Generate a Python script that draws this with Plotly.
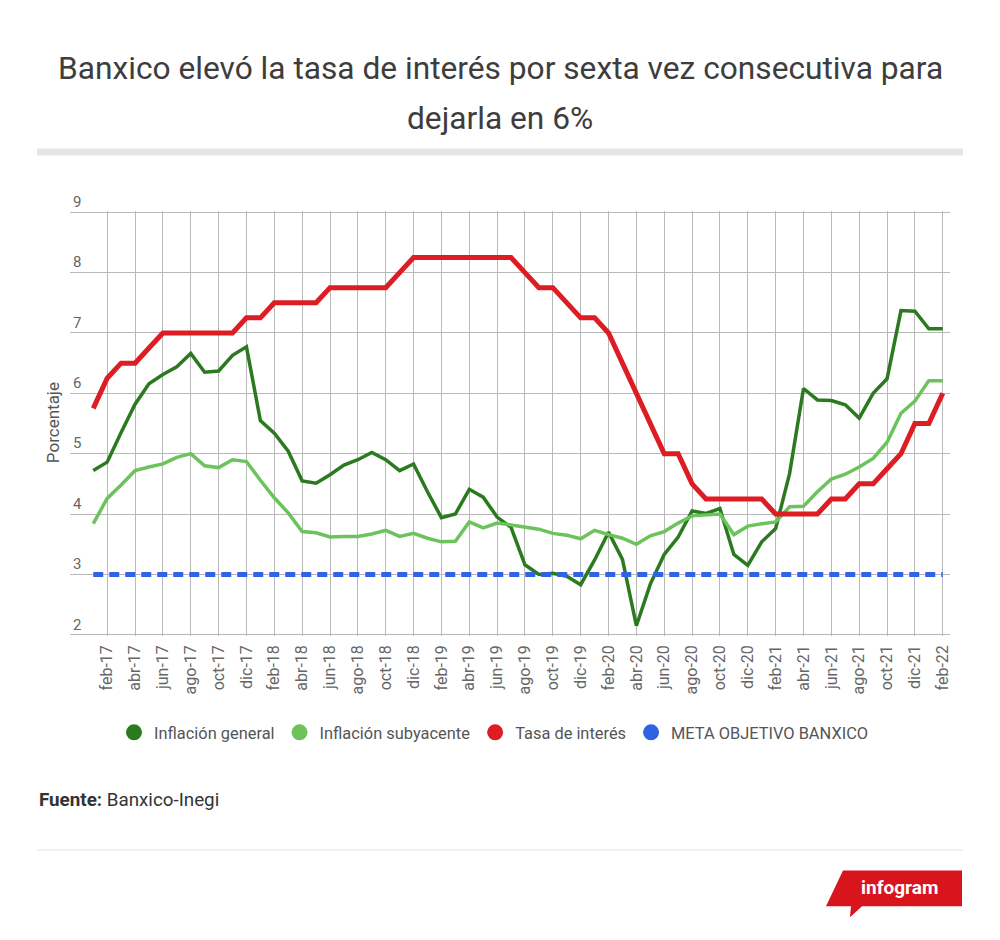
import plotly.graph_objects as go

# Meses (ene-17 a feb-22)
MESES = [
    'ene-17', 'feb-17', 'mar-17', 'abr-17', 'may-17', 'jun-17', 'jul-17', 'ago-17', 'sep-17', 'oct-17', 'nov-17', 'dic-17',
    'ene-18', 'feb-18', 'mar-18', 'abr-18', 'may-18', 'jun-18', 'jul-18', 'ago-18', 'sep-18', 'oct-18', 'nov-18', 'dic-18',
    'ene-19', 'feb-19', 'mar-19', 'abr-19', 'may-19', 'jun-19', 'jul-19', 'ago-19', 'sep-19', 'oct-19', 'nov-19', 'dic-19',
    'ene-20', 'feb-20', 'mar-20', 'abr-20', 'may-20', 'jun-20', 'jul-20', 'ago-20', 'sep-20', 'oct-20', 'nov-20', 'dic-20',
    'ene-21', 'feb-21', 'mar-21', 'abr-21', 'may-21', 'jun-21', 'jul-21', 'ago-21', 'sep-21', 'oct-21', 'nov-21', 'dic-21',
    'ene-22', 'feb-22',
]

# etiquetas visibles: un mes si, uno no
ETIQUETAS_X = MESES[1::2]
TICKS_Y = [2, 3, 4, 5, 6, 7, 8, 9]

INFLACION_GENERAL = [
    4.72, 4.86, 5.35, 5.82, 6.16, 6.31, 6.44, 6.66, 6.35, 6.37, 6.63, 6.77,
    5.55, 5.34, 5.04, 4.55, 4.51, 4.65, 4.81, 4.90, 5.02, 4.90, 4.72, 4.83,
    4.37, 3.94, 4.00, 4.41, 4.28, 3.95, 3.78, 3.16, 3.00, 3.02, 2.97, 2.83,
    3.24, 3.70, 3.25, 2.15, 2.84, 3.33, 3.62, 4.05, 4.01, 4.09, 3.33, 3.15,
    3.54, 3.76, 4.67, 6.08, 5.89, 5.88, 5.81, 5.59, 6.00, 6.24, 7.37, 7.36,
    7.07, 7.07,
]

INFLACION_SUBYACENTE = [
    3.84, 4.26, 4.48, 4.72, 4.78, 4.83, 4.94, 5.00, 4.80, 4.77, 4.90, 4.87,
    4.56, 4.27, 4.02, 3.71, 3.69, 3.62, 3.63, 3.63, 3.67, 3.73, 3.63, 3.68,
    3.60, 3.54, 3.55, 3.87, 3.77, 3.85, 3.82, 3.78, 3.75, 3.68, 3.65, 3.59,
    3.73, 3.66, 3.60, 3.50, 3.64, 3.71, 3.85, 3.97, 3.99, 4.00, 3.66, 3.80,
    3.84, 3.87, 4.12, 4.13, 4.37, 4.58, 4.66, 4.78, 4.92, 5.19, 5.67, 5.87,
    6.21, 6.21,
]

TASA_INTERES = [
    5.75, 6.25, 6.50, 6.50, 6.75, 7.00, 7.00, 7.00, 7.00, 7.00, 7.00, 7.25,
    7.25, 7.50, 7.50, 7.50, 7.50, 7.75, 7.75, 7.75, 7.75, 7.75, 8.00, 8.25,
    8.25, 8.25, 8.25, 8.25, 8.25, 8.25, 8.25, 8.00, 7.75, 7.75, 7.50, 7.25,
    7.25, 7.00, 6.50, 6.00, 5.50, 5.00, 5.00, 4.50, 4.25, 4.25, 4.25, 4.25,
    4.25, 4.00, 4.00, 4.00, 4.00, 4.25, 4.25, 4.50, 4.50, 4.75, 5.00, 5.50,
    5.50, 6.00,
]

META_BANXICO = [3.0] * len(MESES)

SERIES = [
    ('Inflación general', INFLACION_GENERAL, '#2b7a20', 3.5, 'solid'),
    ('Inflación subyacente', INFLACION_SUBYACENTE, '#6cc35c', 3.5, 'solid'),
    ('Tasa de interés', TASA_INTERES, '#dd1c24', 5, 'solid'),
    ('META OBJETIVO BANXICO', META_BANXICO, '#2f63e3', 5, '10px,6px'),
]

# area del grafico en pixeles
W, H = 1000, 940
L, T, PW, PH = 70, 210.5, 880, 425.7


def px(x):
    return (x - L) / PW


def py(y):
    return 1 - (y - T) / PH


fig = go.Figure()

for nombre, valores, color, ancho, dash in SERIES:
    fig.add_trace(go.Scatter(
        x=MESES, y=valores, name=nombre, mode='lines',
        line=dict(color=color, width=ancho, dash=dash),
        showlegend=False,
        hovertemplate='%{x}<br>' + nombre + ': %{y:.2f}<extra></extra>',
    ))

# circulos de la leyenda
for nombre, valores, color, ancho, dash in SERIES:
    fig.add_trace(go.Scatter(
        x=[None], y=[None], name=nombre, mode='markers',
        marker=dict(color=color, size=19),
    ))

font = 'Roboto, Arial, sans-serif'

fig.update_layout(
    width=W, height=H,
    margin=dict(l=L, r=W - L - PW, t=T, b=H - T - PH),
    plot_bgcolor='white',
    paper_bgcolor='white',
    font=dict(family=font, color='#555'),
    xaxis=dict(
        type='category',
        categoryorder='array', categoryarray=MESES,
        range=[-1.67, 61.52],
        tickvals=ETIQUETAS_X, ticktext=ETIQUETAS_X,
        tickangle=-90,
        tickfont=dict(size=16, color='#666'),
        ticklabelstandoff=5,
        showgrid=True, gridcolor='#b8b8b8', gridwidth=1,
        zeroline=False, showline=False, ticks='',
    ),
    yaxis=dict(
        range=[1.98, 9.02],
        tickvals=TICKS_Y,
        ticklabelposition='inside top',
        ticklabeloverflow='allow',
        tickfont=dict(size=15, color='#666'),
        showgrid=True, gridcolor='#b8b8b8', gridwidth=1,
        zeroline=False, showline=False, ticks='',
    ),
    legend=dict(
        orientation='h',
        x=px(494), xanchor='center',
        y=py(733), yanchor='middle',
        font=dict(size=16.4, color='#555'),
        bgcolor='rgba(0,0,0,0)',
    ),
    showlegend=True,
)

# titulo en dos lineas
fig.add_annotation(
    text='Banxico elevó la tasa de interés por sexta vez consecutiva para',
    xref='paper', yref='paper', x=px(500), y=py(68),
    xanchor='center', yanchor='middle', showarrow=False,
    font=dict(size=31.7, color='#3d3d3d', family=font),
)
fig.add_annotation(
    text='dejarla en 6%',
    xref='paper', yref='paper', x=px(500), y=py(118),
    xanchor='center', yanchor='middle', showarrow=False,
    font=dict(size=31.7, color='#3d3d3d', family=font),
)

# titulo del eje y
fig.add_annotation(
    text='Porcentaje', textangle=-90,
    xref='paper', yref='paper', x=px(53), y=py(423),
    xanchor='center', yanchor='middle', showarrow=False,
    font=dict(size=17, color='#555', family=font),
)

# fuente
fig.add_annotation(
    text='<b>Fuente:</b> Banxico-Inegi',
    xref='paper', yref='paper', x=px(37), y=py(800),
    xanchor='left', yanchor='middle', showarrow=False,
    font=dict(size=18.8, color='#333', family=font),
)

# barra gris bajo el titulo
fig.add_shape(
    type='rect', xref='paper', yref='paper',
    x0=px(37), x1=px(963), y0=py(148), y1=py(155),
    fillcolor='#e6e6e6', line=dict(width=0), layer='below',
)

# linea fina sobre el logo
fig.add_shape(
    type='line', xref='paper', yref='paper',
    x0=px(37), x1=px(963), y0=py(850.5), y1=py(850.5),
    line=dict(color='#e2e2e2', width=1),
)

# logo de infogram
puntos = [(843, 871), (962, 871), (962, 907), (862, 907), (850, 918), (851, 907), (826, 907)]
ruta = 'M ' + ' L '.join(f'{px(a):.5f},{py(b):.5f}' for a, b in puntos) + ' Z'
fig.add_shape(
    type='path', xref='paper', yref='paper', path=ruta,
    fillcolor='#d8141c', line=dict(width=0),
)
fig.add_annotation(
    text='<b>infogram</b>',
    xref='paper', yref='paper', x=px(899), y=py(888),
    xanchor='center', yanchor='middle', showarrow=False,
    font=dict(size=19, color='white', family=font),
)

fig.write_html(
    'out.html',
    config={'displayModeBar': False},
    post_script="document.body.style.margin='0px';",
)
